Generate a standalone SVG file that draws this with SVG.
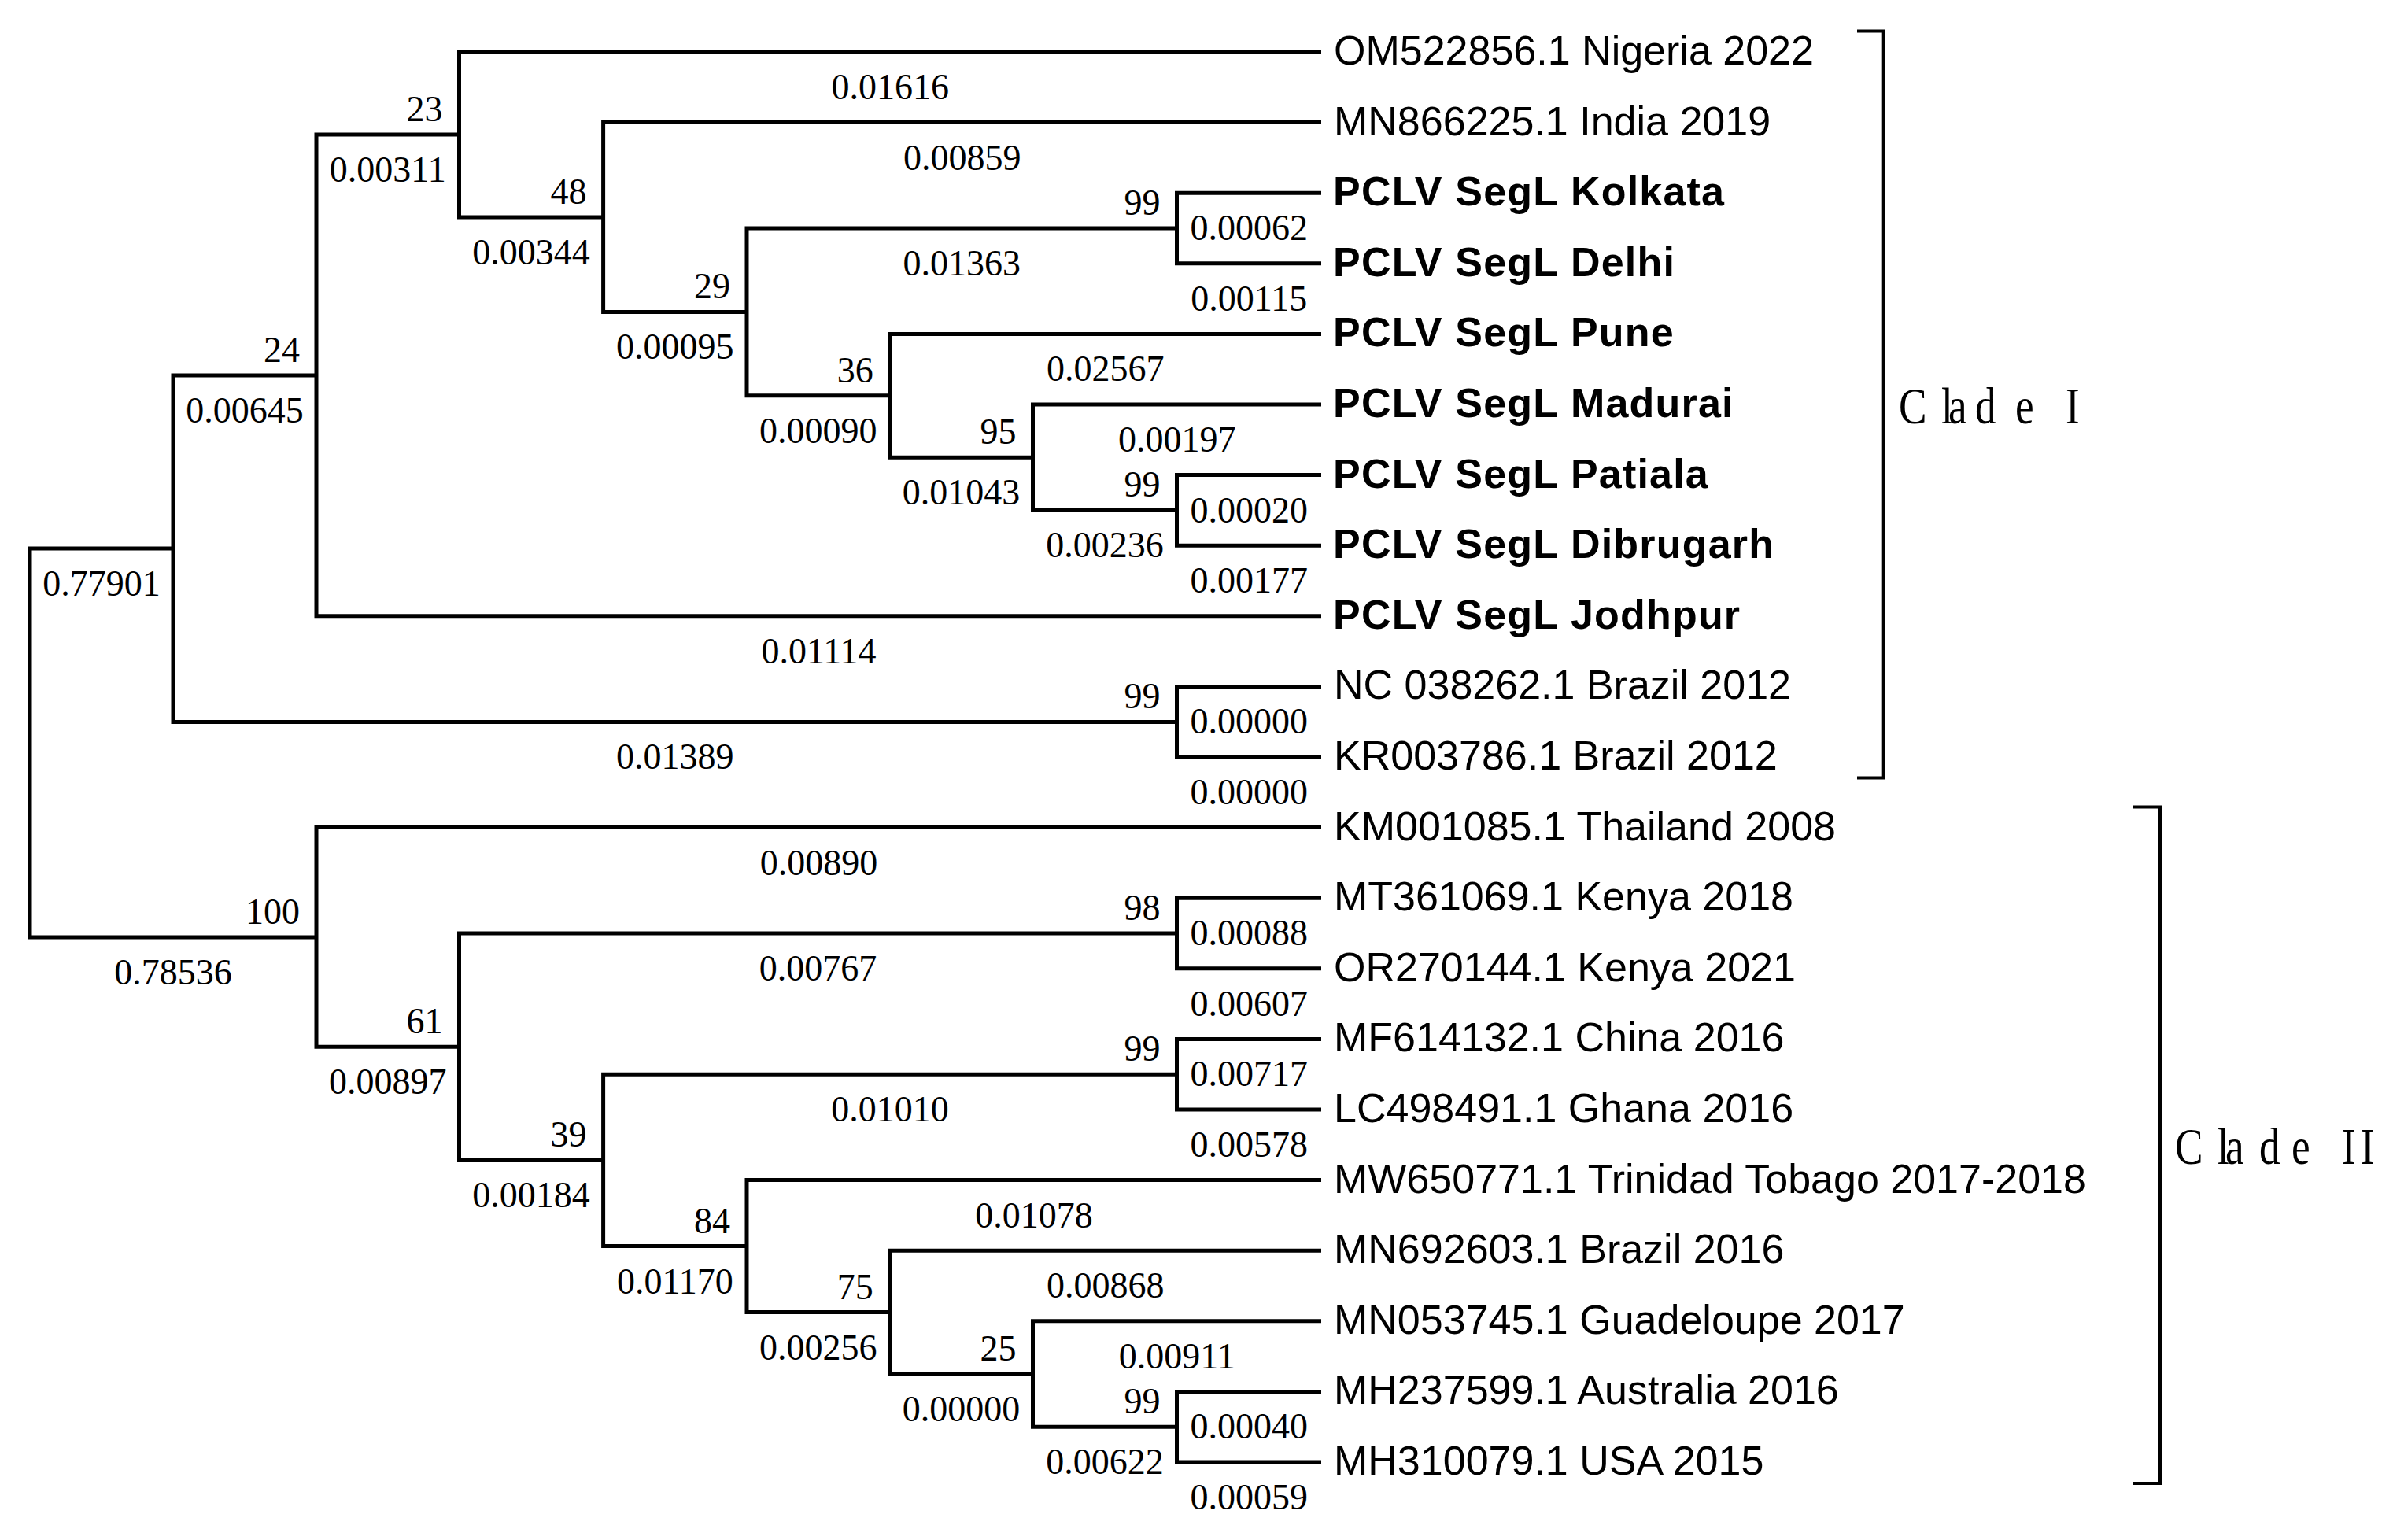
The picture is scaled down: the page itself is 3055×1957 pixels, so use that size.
<svg xmlns="http://www.w3.org/2000/svg" width="3055" height="1957" viewBox="0 0 3055 1957">
<style>
.br{fill:none;stroke:#000;stroke-width:5;stroke-linejoin:miter;stroke-linecap:butt}
.brk{fill:none;stroke:#000;stroke-width:4;stroke-linecap:butt}
.bl{font-family:"Liberation Serif",serif;font-size:46px;text-anchor:middle;fill:#000}
.bs{font-family:"Liberation Serif",serif;font-size:46px;text-anchor:end;fill:#000}
.lf{font-family:"Liberation Sans",Arial,sans-serif;font-size:52px;fill:#000}
.b{font-weight:bold;letter-spacing:1.2px}
.cl{font-family:"Liberation Serif",serif;font-size:65px;fill:#000}
</style>
<rect width="3055" height="1957" fill="#fff"/>
<g id="connectors">
<path class="br" d="M220,697 H38 V1190.9 H402"/>
<path class="br" d="M402,476.9 H220 V917.4 H1495.5"/>
<path class="br" d="M583.5,171 H402 V782.8 H1679"/>
<path class="br" d="M1679,66 H583.5 V276 H766.6"/>
<path class="br" d="M1679,155.6 H766.6 V396.4 H949"/>
<path class="br" d="M1495.5,290 H949 V502.8 H1130.7"/>
<path class="br" d="M1679,245.2 H1495.5 V334.8 H1679"/>
<path class="br" d="M1679,424.4 H1130.7 V581.2 H1312.5"/>
<path class="br" d="M1679,514 H1312.5 V648.4 H1495.5"/>
<path class="br" d="M1679,603.6 H1495.5 V693.2 H1679"/>
<path class="br" d="M1679,872.4 H1495.5 V962 H1679"/>
<path class="br" d="M1679,1051.6 H402 V1330.2 H583.5"/>
<path class="br" d="M1495.5,1186 H583.5 V1474.4 H766.6"/>
<path class="br" d="M1679,1141.2 H1495.5 V1230.8 H1679"/>
<path class="br" d="M1495.5,1365.2 H766.6 V1583.6 H949"/>
<path class="br" d="M1679,1320.4 H1495.5 V1410 H1679"/>
<path class="br" d="M1679,1499.6 H949 V1667.6 H1130.7"/>
<path class="br" d="M1679,1589.2 H1130.7 V1746 H1312.5"/>
<path class="br" d="M1679,1678.8 H1312.5 V1813.2 H1495.5"/>
<path class="br" d="M1679,1768.4 H1495.5 V1858 H1679"/>
<g id="branch-lengths">
<text class="bl" x="129" y="757">0.77901</text>
<text class="bl" x="311" y="536.9">0.00645</text>
<text class="bl" x="492.75" y="231">0.00311</text>
<text class="bl" x="1131.25" y="126">0.01616</text>
<text class="bl" x="675" y="336">0.00344</text>
<text class="bl" x="1222.8" y="215.6">0.00859</text>
<text class="bl" x="857.8" y="456.4">0.00095</text>
<text class="bl" x="1222.25" y="350">0.01363</text>
<text class="bl" x="1587.25" y="305.2">0.00062</text>
<text class="bl" x="1587.25" y="394.8">0.00115</text>
<text class="bl" x="1039.85" y="562.8">0.00090</text>
<text class="bl" x="1404.85" y="484.4">0.02567</text>
<text class="bl" x="1221.6" y="641.2">0.01043</text>
<text class="bl" x="1495.75" y="574">0.00197</text>
<text class="bl" x="1404" y="708.4">0.00236</text>
<text class="bl" x="1587.25" y="663.6">0.00020</text>
<text class="bl" x="1587.25" y="753.2">0.00177</text>
<text class="bl" x="1040.5" y="842.8">0.01114</text>
<text class="bl" x="857.75" y="977.4">0.01389</text>
<text class="bl" x="1587.25" y="932.4">0.00000</text>
<text class="bl" x="1587.25" y="1022">0.00000</text>
<text class="bl" x="220" y="1250.9">0.78536</text>
<text class="bl" x="1040.5" y="1111.6">0.00890</text>
<text class="bl" x="492.75" y="1390.2">0.00897</text>
<text class="bl" x="1039.5" y="1246">0.00767</text>
<text class="bl" x="1587.25" y="1201.2">0.00088</text>
<text class="bl" x="1587.25" y="1290.8">0.00607</text>
<text class="bl" x="675" y="1534.4">0.00184</text>
<text class="bl" x="1131" y="1425.2">0.01010</text>
<text class="bl" x="1587.25" y="1380.4">0.00717</text>
<text class="bl" x="1587.25" y="1470">0.00578</text>
<text class="bl" x="857.8" y="1643.6">0.01170</text>
<text class="bl" x="1314" y="1559.6">0.01078</text>
<text class="bl" x="1039.85" y="1727.6">0.00256</text>
<text class="bl" x="1404.85" y="1649.2">0.00868</text>
<text class="bl" x="1221.6" y="1806">0.00000</text>
<text class="bl" x="1495.75" y="1738.8">0.00911</text>
<text class="bl" x="1404" y="1873.2">0.00622</text>
<text class="bl" x="1587.25" y="1828.4">0.00040</text>
<text class="bl" x="1587.25" y="1918">0.00059</text>
</g>
</g>
<g id="internal-nodes">
<g id="n24"><text class="bs" x="381" y="459.9">24</text></g>
<g id="n23"><text class="bs" x="562.5" y="154">23</text></g>
<g id="n48"><text class="bs" x="745.6" y="259">48</text></g>
<g id="n29"><text class="bs" x="928" y="379.4">29</text></g>
<g id="n99a"><text class="bs" x="1474.5" y="273">99</text></g>
<g id="n36"><text class="bs" x="1109.7" y="485.8">36</text></g>
<g id="n95"><text class="bs" x="1291.5" y="564.2">95</text></g>
<g id="n99b"><text class="bs" x="1474.5" y="631.4">99</text></g>
<g id="n99c"><text class="bs" x="1474.5" y="900.4">99</text></g>
<g id="n100"><text class="bs" x="381" y="1173.9">100</text></g>
<g id="n61"><text class="bs" x="562.5" y="1313.2">61</text></g>
<g id="n98"><text class="bs" x="1474.5" y="1169">98</text></g>
<g id="n39"><text class="bs" x="745.6" y="1457.4">39</text></g>
<g id="n99d"><text class="bs" x="1474.5" y="1348.2">99</text></g>
<g id="n84"><text class="bs" x="928" y="1566.6">84</text></g>
<g id="n75"><text class="bs" x="1109.7" y="1650.6">75</text></g>
<g id="n25"><text class="bs" x="1291.5" y="1729">25</text></g>
<g id="n99e"><text class="bs" x="1474.5" y="1796.2">99</text></g>
</g>
<g id="leaves">
<g id="leaf-OM522856"><text class="lf" x="1695" y="82">OM522856.1 Nigeria 2022</text></g>
<g id="leaf-MN866225"><text class="lf" x="1695" y="171.6">MN866225.1 India 2019</text></g>
<g id="leaf-Kolkata"><text class="lf b" x="1694" y="261.2">PCLV SegL Kolkata</text></g>
<g id="leaf-Delhi"><text class="lf b" x="1694" y="350.8">PCLV SegL Delhi</text></g>
<g id="leaf-Pune"><text class="lf b" x="1694" y="440.4">PCLV SegL Pune</text></g>
<g id="leaf-Madurai"><text class="lf b" x="1694" y="530">PCLV SegL Madurai</text></g>
<g id="leaf-Patiala"><text class="lf b" x="1694" y="619.6">PCLV SegL Patiala</text></g>
<g id="leaf-Dibrugarh"><text class="lf b" x="1694" y="709.2">PCLV SegL Dibrugarh</text></g>
<g id="leaf-Jodhpur"><text class="lf b" x="1694" y="798.8">PCLV SegL Jodhpur</text></g>
<g id="leaf-NC038262"><text class="lf" x="1695" y="888.4">NC 038262.1 Brazil 2012</text></g>
<g id="leaf-KR003786"><text class="lf" x="1695" y="978">KR003786.1 Brazil 2012</text></g>
<g id="leaf-KM001085"><text class="lf" x="1695" y="1067.6">KM001085.1 Thailand 2008</text></g>
<g id="leaf-MT361069"><text class="lf" x="1695" y="1157.2">MT361069.1 Kenya 2018</text></g>
<g id="leaf-OR270144"><text class="lf" x="1695" y="1246.8">OR270144.1 Kenya 2021</text></g>
<g id="leaf-MF614132"><text class="lf" x="1695" y="1336.4">MF614132.1 China 2016</text></g>
<g id="leaf-LC498491"><text class="lf" x="1695" y="1426">LC498491.1 Ghana 2016</text></g>
<g id="leaf-MW650771"><text class="lf" x="1695" y="1515.6">MW650771.1 Trinidad Tobago 2017-2018</text></g>
<g id="leaf-MN692603"><text class="lf" x="1695" y="1605.2">MN692603.1 Brazil 2016</text></g>
<g id="leaf-MN053745"><text class="lf" x="1695" y="1694.8">MN053745.1 Guadeloupe 2017</text></g>
<g id="leaf-MH237599"><text class="lf" x="1695" y="1784.4">MH237599.1 Australia 2016</text></g>
<g id="leaf-MH310079"><text class="lf" x="1695" y="1874">MH310079.1 USA 2015</text></g>
</g>
<g id="clade-I">
<path class="brk" d="M2360,39.5 H2393.7 V988.5 H2360"/>
<text class="cl" transform="scale(0.82,1)" x="2942.7 3008.5 3019.5 3061 3123.2 3170.7 3201.2" y="537.6">Clade I</text>
</g>
<g id="clade-II">
<path class="brk" d="M2711,1025.6 H2745 V1885 H2711"/>
<text class="cl" transform="scale(0.82,1)" x="3370.7 3436.6 3448.8 3501.2 3551.2 3597.6 3629.3 3658.5" y="1479">Clade II</text>
</g>
</svg>
